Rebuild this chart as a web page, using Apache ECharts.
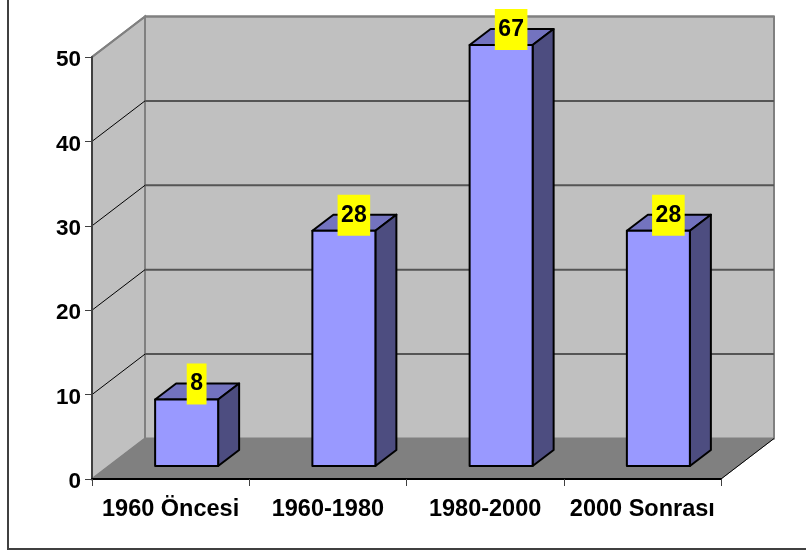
<!DOCTYPE html>
<html>
<head>
<meta charset="utf-8">
<style>
html, body { margin: 0; padding: 0; background: #fff; }
#chart { width: 806px; height: 551px; }
</style>
<script src="https://cdn.jsdelivr.net/npm/echarts@6/dist/echarts.min.js"></script>
</head>
<body>
<div id="chart"></div>
<script>
const categories = ['1960 Öncesi', '1960-1980', '1980-2000', '2000 Sonrası'];
const values = [8, 28, 67, 28];
const yMax = 50;
const yStep = 10;
const gridTicks = [10, 20, 30, 40, 50];

// depth of the fake 3d box, in px
const wallDx = 53, wallDy = -40.5;
const barDx = 16, barDy = -13;
const sideDx = 21, sideDy = -16;
const barWidth = 63;
const fontName = '"Liberation Sans", Arial, sans-serif';

let myChart = echarts.init(document.getElementById('chart'));

function renderWalls(params, api) {
	const band = api.size([1, 0])[0];
	const p0 = api.coord([0, 0]);
	const pTop = api.coord([0, yMax]);
	const left = p0[0] - band / 2;
	const right = left + band * categories.length;
	const bottom = p0[1];
	const top = pTop[1];
	const edge = { stroke: '#808080', lineWidth: 2 };
	return {
		type: 'group',
		children: [
			{
				type: 'polygon',
				shape: { points: [[left, bottom], [left + wallDx, bottom + wallDy], [left + wallDx, top + wallDy], [left, top]] },
				style: Object.assign({ fill: '#c0c0c0' }, edge)
			},
			{
				type: 'polygon',
				shape: { points: [[left + wallDx, bottom + wallDy], [right + wallDx, bottom + wallDy], [right + wallDx, top + wallDy], [left + wallDx, top + wallDy]] },
				style: Object.assign({ fill: '#c0c0c0' }, edge)
			},
			{
				type: 'polygon',
				shape: { points: [[left, bottom], [left + wallDx, bottom + wallDy], [right + wallDx, bottom + wallDy], [right, bottom]] },
				style: { fill: '#808080', stroke: '#808080', lineWidth: 1 }
			},
			{
				type: 'line',
				shape: { x1: right, y1: bottom, x2: right + wallDx, y2: bottom + wallDy },
				style: { stroke: '#000', lineWidth: 1 }
			}
		]
	};
}

function renderGridLine(params, api) {
	const band = api.size([1, 0])[0];
	const p = api.coord([0, api.value(1)]);
	const left = p[0] - band / 2;
	const right = left + band * categories.length;
	return {
		type: 'group',
		children: [
			{
				type: 'line',
				shape: { x1: left, y1: p[1], x2: left + wallDx, y2: p[1] + wallDy },
				style: { stroke: api.value(1) === yMax ? '#808080' : '#000', lineWidth: api.value(1) === yMax ? 2 : 1 }
			},
			{
				type: 'line',
				shape: { x1: left + wallDx, y1: p[1] + wallDy, x2: right + wallDx, y2: p[1] + wallDy },
				style: { stroke: api.value(1) === yMax ? '#808080' : '#555', lineWidth: 2 }
			}
		]
	};
}

function renderBar(params, api) {
	const idx = api.value(0);
	const val = api.value(1);
	const base = api.coord([idx, 0]);
	// bars taller than the axis are cut at the axis max, the label keeps the real value
	const head = api.coord([idx, Math.min(val, yMax)]);
	const x0 = base[0] - barWidth / 2 + barDx;
	const x1 = x0 + barWidth;
	const yB = base[1] + barDy;
	const yT = head[1] + barDy + 1;
	const line = { stroke: '#000', lineWidth: 2, lineJoin: 'round' };
	return {
		type: 'group',
		children: [
			{
				type: 'polygon',
				shape: { points: [[x0, yT], [x0 + sideDx, yT + sideDy], [x1 + sideDx, yT + sideDy], [x1, yT]] },
				style: Object.assign({ fill: '#7373bf' }, line)
			},
			{
				type: 'polygon',
				shape: { points: [[x1, yT], [x1 + sideDx, yT + sideDy], [x1 + sideDx, yB + sideDy], [x1, yB]] },
				style: Object.assign({ fill: '#4d4d80' }, line)
			},
			{
				type: 'rect',
				shape: { x: x0, y: yT, width: barWidth, height: yB - yT },
				style: Object.assign({ fill: '#9999ff' }, line)
			},
			{
				type: 'text',
				style: {
					text: String(val),
					x: x0 + barWidth / 2 + 10,
					y: yT - 15.5,
					align: 'center',
					verticalAlign: 'middle',
					font: 'bold 23px ' + fontName,
					fill: '#000',
					backgroundColor: '#ffff00',
					lineHeight: 25,
					padding: [8, 3.5, 8, 3.5]
				}
			}
		]
	};
}

let option = {
	animation: false,
	backgroundColor: '#fff',
	grid: { left: 92, top: 57, width: 629, height: 422 },
	graphic: [
		{
			type: 'polyline',
			silent: true,
			shape: { points: [[8, 0], [8, 549], [806, 549]] },
			style: { stroke: '#404040', lineWidth: 2, fill: null }
		}
	],
	xAxis: {
		type: 'category',
		data: categories,
		z: 5,
		axisLine: { lineStyle: { color: '#000', width: 2 } },
		axisTick: { show: true, length: 7, lineStyle: { color: '#404040', width: 1 } },
		axisLabel: { interval: 0, color: '#000', fontFamily: fontName, fontWeight: 'bold', fontSize: 23.5, margin: 19 }
	},
	yAxis: {
		type: 'value',
		min: 0,
		max: yMax,
		interval: yStep,
		z: 5,
		splitLine: { show: false },
		axisLine: { show: true, lineStyle: { color: '#404040', width: 2 } },
		axisTick: { show: true, length: 7, lineStyle: { color: '#404040', width: 1 } },
		// top-aligned with a short line box, nudges the numbers just under their ticks
		axisLabel: { color: '#000', fontFamily: fontName, fontWeight: 'bold', fontSize: 22.5, margin: 11, verticalAlign: 'top', lineHeight: 6 }
	},
	series: [
		{
			type: 'custom',
			z: 1,
			silent: true,
			renderItem: renderWalls,
			data: [[0, 0]]
		},
		{
			type: 'custom',
			z: 2,
			silent: true,
			renderItem: renderGridLine,
			data: gridTicks.map(t => [0, t])
		},
		{
			type: 'custom',
			z: 6,
			silent: true,
			renderItem: renderBar,
			data: values.map((v, i) => [i, v])
		}
	]
};

myChart.setOption(option);
</script>
</body>
</html>
